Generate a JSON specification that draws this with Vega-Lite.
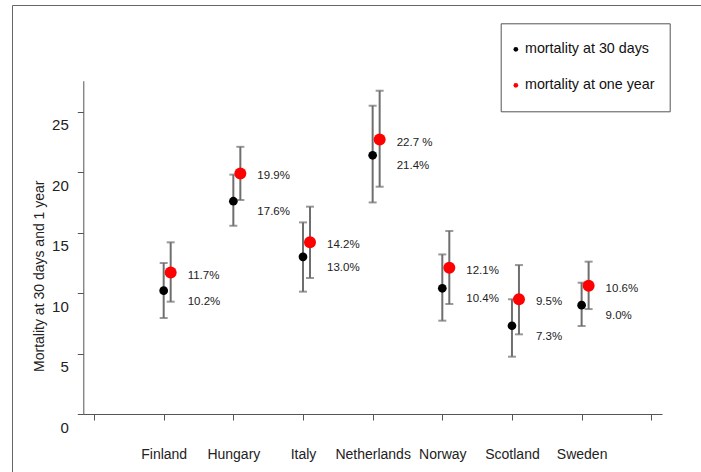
{
  "$schema": "https://vega.github.io/schema/vega-lite/v6.json",
  "width": 689,
  "height": 467,
  "autosize": {"type": "none"},
  "padding": {"left": 12, "top": 5, "right": 0, "bottom": 0},
  "background": "white",
  "config": {
    "font": "Liberation Sans",
    "view": {"stroke": "#666666", "strokeWidth": 1},
    "axis": {"domainColor": "#555555", "tickColor": "#555555", "grid": false, "labelColor": "#222222", "titleColor": "#222222", "labelFont": "Liberation Sans", "titleFont": "Liberation Sans"},
    "axisX": {"offset": -58, "tickSize": 6, "labelFontSize": 14, "labelPadding": 27, "labelAngle": 0},
    "axisY": {"offset": -71.3, "tickSize": 6, "labelFontSize": 15, "labelPadding": 9, "labelOffset": 13, "titleFontSize": 14, "titleFontWeight": "normal", "titleX": -44, "titleY": 270.7, "titleBaseline": "middle", "titleAngle": -90}
  },
  "data": {
    "values": [
      {"country": "Finland", "measure": "mortality at 30 days", "value": 10.2, "lo": 7.94, "hi": 12.49, "label": "10.2%"},
      {"country": "Finland", "measure": "mortality at one year", "value": 11.7, "lo": 9.29, "hi": 14.2, "label": "11.7%"},
      {"country": "Hungary", "measure": "mortality at 30 days", "value": 17.6, "lo": 15.57, "hi": 19.8, "label": "17.6%"},
      {"country": "Hungary", "measure": "mortality at one year", "value": 19.9, "lo": 17.7, "hi": 22.1, "label": "19.9%"},
      {"country": "Italy", "measure": "mortality at 30 days", "value": 13.0, "lo": 10.12, "hi": 15.85, "label": "13.0%"},
      {"country": "Italy", "measure": "mortality at one year", "value": 14.2, "lo": 11.25, "hi": 17.15, "label": "14.2%"},
      {"country": "Netherlands", "measure": "mortality at 30 days", "value": 21.4, "lo": 17.5, "hi": 25.5, "label": "21.4%"},
      {"country": "Netherlands", "measure": "mortality at one year", "value": 22.7, "lo": 18.8, "hi": 26.74, "label": "22.7 %"},
      {"country": "Norway", "measure": "mortality at 30 days", "value": 10.4, "lo": 7.72, "hi": 13.2, "label": "10.4%"},
      {"country": "Norway", "measure": "mortality at one year", "value": 12.1, "lo": 9.1, "hi": 15.14, "label": "12.1%"},
      {"country": "Scotland", "measure": "mortality at 30 days", "value": 7.3, "lo": 4.74, "hi": 9.49, "label": "7.3%"},
      {"country": "Scotland", "measure": "mortality at one year", "value": 9.5, "lo": 6.59, "hi": 12.32, "label": "9.5%"},
      {"country": "Sweden", "measure": "mortality at 30 days", "value": 9.0, "lo": 7.28, "hi": 10.86, "label": "9.0%"},
      {"country": "Sweden", "measure": "mortality at one year", "value": 10.6, "lo": 8.68, "hi": 12.6, "label": "10.6%"}
    ]
  },
  "encoding": {
    "x": {
      "field": "country",
      "type": "nominal",
      "title": null,
      "scale": {"type": "point", "domain": ["_start", "Finland", "Hungary", "Italy", "Netherlands", "Norway", "Scotland", "Sweden", "_end"], "range": [71.3, 650], "padding": 0.154},
      "axis": {"labelExpr": "datum.value == '_start' || datum.value == '_end' ? '' : datum.value"}
    }
  },
  "layer": [
    {
      "transform": [{"filter": "datum.measure == 'mortality at 30 days'"}],
      "mark": {"type": "rule", "color": "#6e6e6e", "strokeWidth": 2},
      "encoding": {
        "y": {"field": "lo", "type": "quantitative", "title": "Mortality at 30 days and 1 year", "scale": {"domain": [0, 27.57], "range": [409, 75.7], "nice": false, "zero": false}, "axis": {"values": [0, 5, 10, 15, 20, 25]}},
        "y2": {"field": "hi"}
      }
    },
    {
      "transform": [{"filter": "datum.measure == 'mortality at one year'"}],
      "mark": {"type": "rule", "color": "#6e6e6e", "strokeWidth": 2, "xOffset": 7},
      "encoding": {
        "y": {"field": "lo", "type": "quantitative", "title": "Mortality at 30 days and 1 year"},
        "y2": {"field": "hi"}
      }
    },
    {
      "transform": [{"filter": "datum.measure == 'mortality at 30 days'"}, {"fold": ["lo", "hi"], "as": ["bound", "b"]}],
      "mark": {"type": "tick", "color": "#6e6e6e", "size": 8, "thickness": 2, "orient": "horizontal"},
      "encoding": {
        "y": {"field": "b", "type": "quantitative", "title": "Mortality at 30 days and 1 year"}
      }
    },
    {
      "transform": [{"filter": "datum.measure == 'mortality at one year'"}, {"fold": ["lo", "hi"], "as": ["bound", "b"]}],
      "mark": {"type": "tick", "color": "#6e6e6e", "size": 8, "thickness": 2, "orient": "horizontal", "xOffset": 7},
      "encoding": {
        "y": {"field": "b", "type": "quantitative", "title": "Mortality at 30 days and 1 year"}
      }
    },
    {
      "transform": [{"filter": "datum.measure == 'mortality at 30 days'"}],
      "mark": {"type": "point", "shape": "circle", "filled": true, "opacity": 1, "size": 76},
      "encoding": {
        "y": {"field": "value", "type": "quantitative", "title": "Mortality at 30 days and 1 year"},
        "color": {
          "field": "measure",
          "type": "nominal",
          "scale": {"domain": ["mortality at 30 days", "mortality at one year"], "range": ["#000000", "#ff0000"]},
          "legend": {"title": " ", "titleOrient": "right", "titlePadding": 7, "titleFontSize": 14, "orient": "none", "legendX": 488.7, "legendY": 18.3, "strokeColor": "#555555", "padding": 8, "clipHeight": 36, "rowPadding": -2.5, "symbolType": "circle", "symbolSize": 22, "symbolStrokeWidth": 0, "labelFontSize": 14.3, "labelColor": "#111111", "labelOffset": 2, "labelFont": "Liberation Sans"}
        }
      }
    },
    {
      "transform": [{"filter": "datum.measure == 'mortality at one year'"}],
      "mark": {"type": "point", "shape": "circle", "filled": true, "opacity": 1, "size": 144, "xOffset": 7},
      "encoding": {
        "y": {"field": "value", "type": "quantitative", "title": "Mortality at 30 days and 1 year"},
        "color": {"field": "measure", "type": "nominal"}
      }
    },
    {
      "transform": [{"filter": "datum.measure == 'mortality at 30 days'"}],
      "mark": {"type": "text", "align": "left", "baseline": "middle", "xOffset": 24, "dy": 11, "fontSize": 11.5, "color": "#222222"},
      "encoding": {
        "y": {"field": "value", "type": "quantitative", "title": "Mortality at 30 days and 1 year"},
        "text": {"field": "label"}
      }
    },
    {
      "transform": [{"filter": "datum.measure == 'mortality at one year'"}],
      "mark": {"type": "text", "align": "left", "baseline": "middle", "xOffset": 24, "dy": 3, "fontSize": 11.5, "color": "#222222"},
      "encoding": {
        "y": {"field": "value", "type": "quantitative", "title": "Mortality at 30 days and 1 year"},
        "text": {"field": "label"}
      }
    }
  ]
}
